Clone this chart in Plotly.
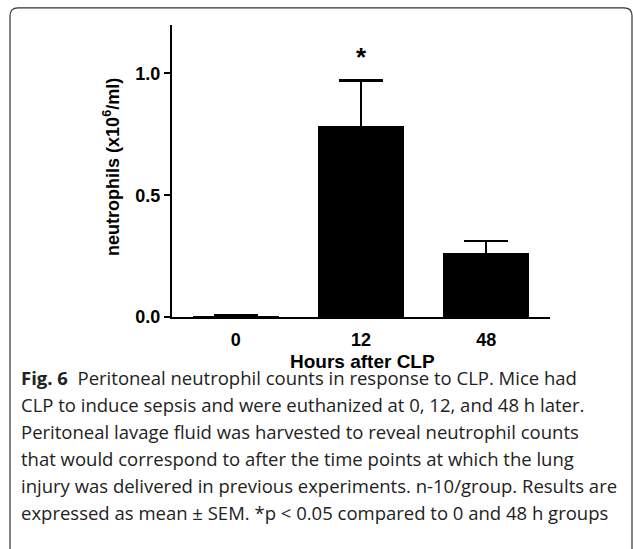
import plotly.graph_objects as go

categories = ["0", "12", "48"]
means = [0.006, 0.786, 0.266]
sem = [0.002, 0.184, 0.046]
y_tickvals = [0.0, 0.5, 1.0]
y_ticktext = ["0.0", "0.5", "1.0"]
caption_lines = [
    "<b>Fig. 6</b>  Peritoneal neutrophil counts in response to CLP. Mice had",
    "CLP to induce sepsis and were euthanized at 0, 12, and 48 h later.",
    "Peritoneal lavage fluid was harvested to reveal neutrophil counts",
    "that would correspond to after the time points at which the lung",
    "injury was delivered in previous experiments. n-10/group. Results are",
    "expressed as mean \u00b1 SEM. *p < 0.05 compared to 0 and 48 h groups",
]

W, H = 633, 549
def px(x): return x / W
def py(y): return 1 - y / H

fig = go.Figure()
fig.add_trace(go.Bar(
    x=categories, y=means, width=0.69,
    marker=dict(color="black", line=dict(width=0)),
    error_y=dict(type="data", array=sem, symmetric=True,
                 color="black", thickness=2.5, width=22),
    showlegend=False,
))

font_chart = "Liberation Sans, Arial, sans-serif"
fig.update_layout(
    width=W, height=H,
    margin=dict(l=0, r=0, t=0, b=0),
    paper_bgcolor="white", plot_bgcolor="white",
    bargap=0,
    xaxis=dict(domain=[px(172), px(550)], range=[-0.51, 2.51], type="category",
               showgrid=False, zeroline=False, showline=True, linecolor="black", linewidth=2,
               ticks="", tickfont=dict(family=font_chart, size=18, color="black", weight="bold"),
               ticklabelstandoff=5),
    yaxis=dict(domain=[py(323), py(25)], range=[0, 1.2],
               tickvals=y_tickvals, ticktext=y_ticktext,
               showgrid=False, zeroline=False, showline=True, linecolor="black", linewidth=2,
               ticks="outside", ticklen=6, tickwidth=2, tickcolor="black",
               tickfont=dict(family=font_chart, size=18, color="black", weight="bold")),
)

# axis titles
fig.add_annotation(x=px(112), y=py(170), xref="paper", yref="paper", textangle=-90,
                   xanchor="center", yanchor="middle",
                   text="neutrophils (x10<sup>6</sup>/ml)", showarrow=False,
                   font=dict(family=font_chart, size=18, color="black", weight="bold"))
fig.add_annotation(x=px(362), y=py(368), xref="paper", yref="paper",
                   xanchor="center", yanchor="middle",
                   text="Hours after CLP", showarrow=False,
                   font=dict(family=font_chart, size=19, color="black", weight="bold"))
# significance star
fig.add_annotation(x=1, y=means[1] + sem[1], yshift=24, xref="x", yref="y",
                   text="*", showarrow=False,
                   font=dict(family=font_chart, size=26, color="black", weight="bold"))

# caption
line_y = [385, 412.5, 440, 467.5, 495, 522]
for t, yy in zip(caption_lines, line_y):
    fig.add_annotation(x=px(19), y=py(yy), xref="paper", yref="paper", xanchor="left",
                       yanchor="middle", text=t, showarrow=False, align="left",
                       font=dict(family="Open Sans, sans-serif", size=18.5, color="#222"))

# rounded frame
r = 8
x0, x1, y0, y1 = 10, 632, 8, 560
path = (f"M {px(x0)},{py(y1)} L {px(x0)},{py(y0 + r)} "
        f"Q {px(x0)},{py(y0)} {px(x0 + r)},{py(y0)} "
        f"L {px(x1 - r)},{py(y0)} Q {px(x1)},{py(y0)} {px(x1)},{py(y0 + r)} "
        f"L {px(x1)},{py(y1)}")
fig.add_shape(type="path", path=path, xref="paper", yref="paper",
              line=dict(color="#333", width=1.2))

post = (
    "document.documentElement.style.margin='0';"
    "document.body.style.margin='0';"
    "document.documentElement.style.overflow='hidden';"
    "document.body.style.overflow='hidden';"
)
fig.write_html("out.html", post_script=post, config={"displayModeBar": False})
